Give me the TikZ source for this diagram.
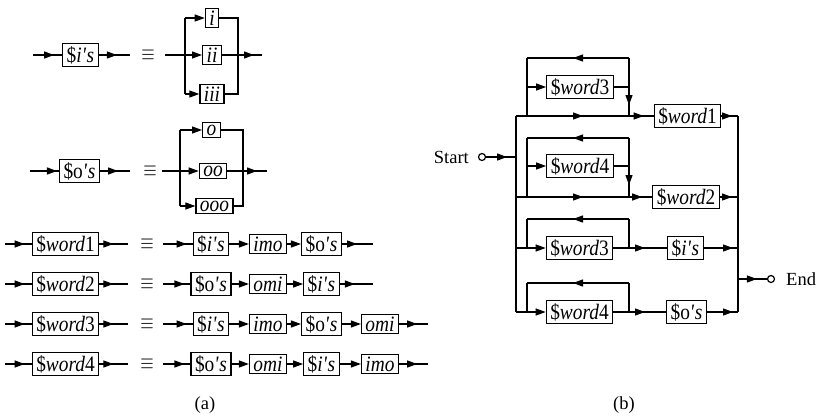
\documentclass[tikz,border=0pt]{standalone}
\usepackage{fontspec}
\setmainfont{Liberation Serif}
\newfontfamily\boxfont{Liberation Serif}[FakeStretch=0.88]
\usetikzlibrary{arrows.meta,decorations.markings}
\newcommand{\myQ}{\textit{\textquotesingle}}
\newcommand{\myIs}{\$\textit{i}\myQ\textit{s}}
\newcommand{\myOs}{\$o\myQ\textit{s}}
\newcommand{\myEq}{\scalebox{1}[1.3]{$\equiv$}}
\begin{document}
\begin{tikzpicture}[x=1pt,y=-1pt,
  ln/.style={line width=1.2pt},
  ea/.style={ln,-{Triangle[length=10pt,width=7pt]}},
  tip/.style={ln,postaction={decorate},decoration={markings,mark=at position #1 with {\arrow{Triangle[length=10pt,width=7pt]}}}},
  box/.style={draw,line width=1.2pt,inner xsep=4pt,inner ysep=2.5pt,font=\boxfont\fontsize{22}{24}\selectfont},
  lbl/.style={inner sep=0pt,font=\fontsize{18.5}{22}\selectfont},
  eqv/.style={inner sep=0pt,font=\fontsize{16}{18}\selectfont},
  dot/.style={circle,draw,line width=1.2pt,fill=white,inner sep=0pt,minimum size=7pt}
]
\useasboundingbox (0,0) rectangle (820,416);

% ---------- (a) row $i's
\coordinate (p1in) at (33,55);
\node[box] (p1) at (80.5,55) {\myIs};
\coordinate (p1out) at (130,55);
\draw[tip=-8pt] (p1in) -- (p1);
\draw[tip=18pt] (p1) -- (p1out);
\node[eqv] (eq1) at (148,55) {\myEq};
\coordinate (q1in) at (165,55);
\coordinate (q1t) at (185,18);
\coordinate (q1b) at (185,94);
\node[box] (ri) at (212,18) {\textit{i}};
\node[box] (rii) at (212,55) {\textit{ii}};
\node[box] (riii) at (212,94) {\textit{iii}};
\coordinate (s1t) at (238,18);
\coordinate (s1m) at (238,55);
\coordinate (s1b) at (238,94);
\coordinate (q1out) at (262,55);
\draw[ea] (q1in) -- (rii);
\draw[ln] (q1t) -- (q1b);
\draw[ea] (q1t) -- (ri);
\draw[ea] (q1b) -- (riii);
\draw[ln] (ri) -- (s1t) -- (s1b) -- (riii);
\draw[ln] (rii) -- (s1m);
\draw[tip=-8pt] (s1m) -- (q1out);

% ---------- (a) row $o's
\coordinate (p2in) at (30,171);
\node[box] (p2) at (79.5,171) {\myOs};
\coordinate (p2out) at (130,171);
\draw[tip=-2pt] (p2in) -- (p2);
\draw[tip=18pt] (p2) -- (p2out);
\node[eqv] (eq2) at (150,171) {\myEq};
\coordinate (q2in) at (162,171);
\coordinate (q2t) at (180,130);
\coordinate (q2b) at (180,206);
\node[box] (ro) at (211.5,130) {\textit{o}};
\node[box] (roo) at (213,171) {\textit{oo}};
\node[box] (rooo) at (214.5,206) {\textit{ooo}};
\coordinate (s2t) at (243,130);
\coordinate (s2m) at (243,171);
\coordinate (s2b) at (243,206);
\coordinate (q2out) at (267,171);
\draw[ea] (q2in) -- (roo);
\draw[ln] (q2t) -- (q2b);
\draw[ea] (q2t) -- (ro);
\draw[ea] (q2b) -- (rooo);
\draw[ln] (ro) -- (s2t) -- (s2b) -- (rooo);
\draw[ln] (roo) -- (s2m);
\draw[tip=-10pt] (s2m) -- (q2out);

% ---------- (a) $word1
\coordinate (w1in) at (5,244);
\node[box] (w1) at (65.5,244) {\$\textit{word}1};
\coordinate (w1out) at (128,244);
\draw[tip=-7pt] (w1in) -- (w1);
\draw[tip=14pt] (w1) -- (w1out);
\node[eqv] (eq3) at (147,244) {\myEq};
\coordinate (x1in) at (163,244);
\node[box] (x1a) at (211,244) {\myIs};
\node[box] (x1b) at (268,244) {\textit{imo}};
\node[box] (x1c) at (321.5,244) {\myOs};
\coordinate (x1out) at (373,244);
\draw[tip=-6pt] (x1in) -- (x1a);
\draw[ea] (x1a) -- (x1b);
\draw[ea] (x1b) -- (x1c);
\draw[tip=15pt] (x1c) -- (x1out);

% ---------- (a) $word2
\coordinate (w2in) at (5,284);
\node[box] (w2) at (65.5,284) {\$\textit{word}2};
\coordinate (w2out) at (128,284);
\draw[tip=-7pt] (w2in) -- (w2);
\draw[tip=14pt] (w2) -- (w2out);
\node[eqv] (eq4) at (147,284) {\myEq};
\coordinate (x2in) at (163,284);
\node[box] (x2a) at (211,284) {\myOs};
\node[box] (x2b) at (268,284) {\textit{omi}};
\node[box] (x2c) at (321.5,284) {\myIs};
\coordinate (x2out) at (373,284);
\draw[tip=-6pt] (x2in) -- (x2a);
\draw[ea] (x2a) -- (x2b);
\draw[ea] (x2b) -- (x2c);
\draw[tip=15pt] (x2c) -- (x2out);

% ---------- (a) $word3
\coordinate (w3in) at (5,324);
\node[box] (w3) at (65.5,324) {\$\textit{word}3};
\coordinate (w3out) at (128,324);
\draw[tip=-7pt] (w3in) -- (w3);
\draw[tip=14pt] (w3) -- (w3out);
\node[eqv] (eq5) at (147,324) {\myEq};
\coordinate (x3in) at (163,324);
\node[box] (x3a) at (211,324) {\myIs};
\node[box] (x3b) at (268,324) {\textit{imo}};
\node[box] (x3c) at (321.5,324) {\myOs};
\node[box] (x3d) at (380,324) {\textit{omi}};
\coordinate (x3out) at (428,324);
\draw[tip=-6pt] (x3in) -- (x3a);
\draw[ea] (x3a) -- (x3b);
\draw[ea] (x3b) -- (x3c);
\draw[ea] (x3c) -- (x3d);
\draw[tip=18pt] (x3d) -- (x3out);

% ---------- (a) $word4
\coordinate (w4in) at (5,364);
\node[box] (w4) at (65.5,364) {\$\textit{word}4};
\coordinate (w4out) at (128,364);
\draw[tip=-7pt] (w4in) -- (w4);
\draw[tip=14pt] (w4) -- (w4out);
\node[eqv] (eq6) at (147,364) {\myEq};
\coordinate (x4in) at (163,364);
\node[box] (x4a) at (211,364) {\myOs};
\node[box] (x4b) at (268,364) {\textit{omi}};
\node[box] (x4c) at (321.5,364) {\myIs};
\node[box] (x4d) at (380,364) {\textit{imo}};
\coordinate (x4out) at (428,364);
\draw[tip=-6pt] (x4in) -- (x4a);
\draw[ea] (x4a) -- (x4b);
\draw[ea] (x4b) -- (x4c);
\draw[ea] (x4c) -- (x4d);
\draw[tip=18pt] (x4d) -- (x4out);

\node[lbl] (capa) at (205,405) {(a)};

% ---------- (b)
\node[lbl,anchor=east] (start) at (469,157) {Start};
\node[dot] (sc) at (482,157) {};
\coordinate (L0) at (516,157);
\draw[tip=-9pt] (sc) -- (L0);
\coordinate (LA) at (516,116);
\coordinate (LB) at (516,197);
\coordinate (LC) at (516,248);
\coordinate (LD) at (516,312);
\draw[ln] (LA) -- (LD);

\coordinate (RA) at (738,116);
\coordinate (RB) at (738,197);
\coordinate (RC) at (738,248);
\coordinate (RE) at (738,279);
\coordinate (RD) at (738,312);
\draw[ln] (RA) -- (RD);

% row A
\node[box] (W1) at (687.5,116) {\$\textit{word}1};
\coordinate (jA) at (629,116);
\draw[tip=67pt] (LA) -- (jA);
\draw[tip=-10pt] (jA) -- (W1);
\draw[tip=-6pt] (W1) -- (RA);
\coordinate (iA) at (527,116);
\coordinate (iAm) at (527,87);
\coordinate (iAt) at (527,58);
\coordinate (rAt) at (629,58);
\coordinate (rAm) at (629,87);
\node[box] (W3a) at (580,87) {\$\textit{word}3};
\draw[ea] (iAm) -- (W3a);
\draw[ln] (W3a) -- (rAm) -- (rAt);
\draw[tip=56pt] (rAt) -- (iAt);
\draw[ln] (iAt) -- (iA);
\draw[tip=18pt] (rAm) -- (jA);

% row B
\node[box] (W2) at (686,197) {\$\textit{word}2};
\coordinate (jB) at (629,197);
\draw[tip=67pt] (LB) -- (jB);
\draw[tip=-10pt] (jB) -- (W2);
\draw[tip=-6pt] (W2) -- (RB);
\coordinate (iB) at (527,197);
\coordinate (iBm) at (527,166);
\coordinate (iBt) at (527,138);
\coordinate (rBt) at (629,138);
\coordinate (rBm) at (629,166);
\node[box] (W4a) at (580,166) {\$\textit{word}4};
\draw[ea] (iBm) -- (W4a);
\draw[ln] (W4a) -- (rBm) -- (rBt);
\draw[tip=56pt] (rBt) -- (iBt);
\draw[ln] (iBt) -- (iB);
\draw[tip=19pt] (rBm) -- (jB);

% row C
\node[box] (W3b) at (579.5,248) {\$\textit{word}3};
\node[box] (SI) at (685.5,248) {\myIs};
\coordinate (iC) at (527,248);
\coordinate (iCt) at (527,219);
\coordinate (rCt) at (629,219);
\coordinate (jC) at (629,248);
\draw[ea] (LC) -- (W3b);
\draw[ln] (W3b) -- (jC) -- (rCt);
\draw[tip=56pt] (rCt) -- (iCt);
\draw[ln] (iCt) -- (iC);
\draw[tip=16pt] (jC) -- (SI);
\draw[tip=-5pt] (SI) -- (RC);

% row D
\node[box] (W4b) at (579.5,312) {\$\textit{word}4};
\node[box] (SO) at (686.5,312) {\myOs};
\coordinate (iD) at (527,312);
\coordinate (iDt) at (527,283);
\coordinate (rDt) at (629,283);
\coordinate (jD) at (629,312);
\draw[ea] (LD) -- (W4b);
\draw[ln] (W4b) -- (jD) -- (rDt);
\draw[tip=56pt] (rDt) -- (iDt);
\draw[ln] (iDt) -- (iD);
\draw[tip=16pt] (jD) -- (SO);
\draw[tip=-5pt] (SO) -- (RD);

% end
\node[dot] (ec) at (771,279) {};
\draw[tip=-10pt] (RE) -- (ec);
\node[lbl,anchor=west] (endt) at (786,279) {End};

\node[lbl] (capb) at (624,405) {(b)};
\end{tikzpicture}
\end{document}
